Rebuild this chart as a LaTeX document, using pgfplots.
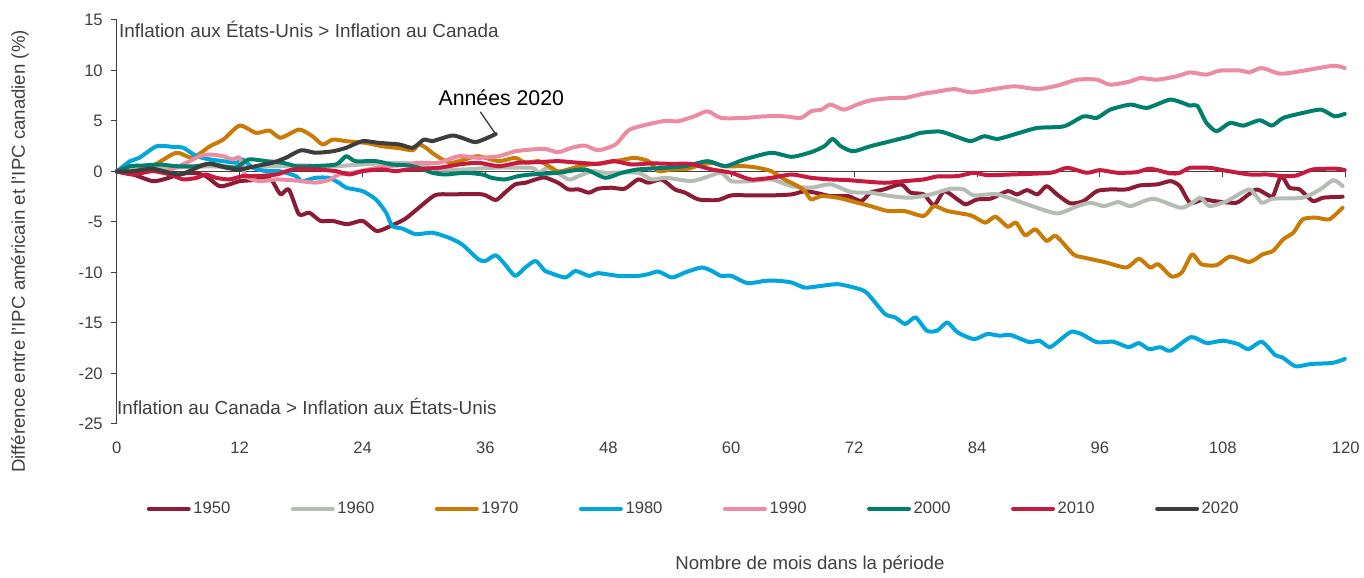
\documentclass[border=0pt]{standalone}
\usepackage{fontspec}
\setmainfont{Liberation Sans}
\usepackage{pgfplots}
\pgfplotsset{compat=1.18}

\definecolor{c1950}{HTML}{8C1C35}
\definecolor{c1960}{HTML}{B4BCB4}
\definecolor{c1970}{HTML}{C97B06}
\definecolor{c1980}{HTML}{00A6DC}
\definecolor{c1990}{HTML}{EC8CA2}
\definecolor{c2000}{HTML}{00806C}
\definecolor{c2010}{HTML}{C8193F}
\definecolor{c2020}{HTML}{3D3D3D}
\definecolor{txtgray}{HTML}{404040}

\begin{document}
\begin{tikzpicture}
\begin{axis}[
  scale only axis, width=924pt, height=303.75pt,
  xmin=0, xmax=120, ymin=-25, ymax=15,
  axis lines*=left, clip=false,
  x axis line style={draw=none},
  y axis line style={draw=txtgray, line width=0.75pt},
  xtick={0,12,...,120}, ytick={-25,-20,...,15},
  xtick style={draw=none},
  ytick style={draw=txtgray, line width=0.75pt},
  tick align=outside, major tick length=4pt,
  /pgf/number format/assume math mode=true,
  tick label style={font=\fontsize{12.5}{14}\selectfont, text=txtgray},
  xticklabel style={yshift=-6pt},
  yticklabel style={xshift=-3pt},
  ylabel={Différence entre l'IPC américain et l'IPC canadien (\%)},
  every axis y label/.style={at={(rel axis cs:-0.0787,0.427)}, rotate=90, anchor=center,
    font=\fontsize{14}{16}\selectfont, text=txtgray},
  every axis plot/.append style={line width=3pt, line join=round, line cap=round, smooth, tension=0.4},
  legend columns=8,
  legend style={draw=none, fill=none, at={(0.021,-0.21)}, anchor=west,
    font=\fontsize{12.5}{14}\selectfont, text=txtgray,
    /tikz/every even column/.append style={column sep=43.5pt}},
  legend image code/.code={\draw[#1, line width=3pt, line cap=round] (0pt,0pt) -- (30pt,0pt);},
]
\draw[txtgray, line width=0.75pt] (axis cs:0,0) -- (axis cs:120,0);
\pgfplotsinvokeforeach{12,24,36,48,60,72,84,96,108,120}{
  \draw[txtgray, line width=0.75pt] (axis cs:#1,0) -- ++(0pt,-4pt);
}

\addplot[c1950] coordinates {
(0,0) (1.6,-0.3) (3.5,-0.96) (4.8,-0.72) (6.1,-0.3) (7.4,-0.13) (8.7,-0.46) (10,-1.45) (11,-1.28) (12,-0.96)
(13.3,-0.86) (14.6,-0.63) (15.2,-0.96) (16,-2.27) (16.8,-1.78) (17.8,-4.25) (18.8,-4.08) (19.9,-4.9) (21.1,-4.9)
(22.5,-5.23) (24,-4.9) (25.4,-5.9) (26.9,-5.33) (28.2,-4.67) (29.5,-3.59) (31.1,-2.34) (32.7,-2.27) (35.7,-2.27)
(37,-2.83) (37.9,-2.1) (38.9,-1.28) (39.9,-1.12) (40.9,-0.79) (41.8,-0.6) (43.1,-1.12) (44.1,-1.78) (45.1,-1.78)
(46.1,-2.1) (47,-1.71) (48.3,-1.61) (49.6,-1.71) (50.9,-0.79) (51.9,-1.12) (53.2,-0.79) (54.5,-1.78) (55.5,-2.1)
(56.8,-2.77) (58.7,-2.83) (60,-2.37) (61.9,-2.37) (63.9,-2.37) (65.9,-2.27) (67.2,-1.95) (68.5,-2.17) (69.7,-2.44)
(71.4,-2.44) (72.7,-2.93) (73.6,-2.1) (74.9,-1.78) (76.6,-1.28) (77.5,-2.1) (78.8,-2.27) (79.8,-3.36) (80.8,-1.95)
(82.1,-2.77) (82.9,-3.26) (84,-2.77) (85.3,-2.7) (87,-1.95) (87.9,-2.27) (88.9,-1.85) (89.9,-2.27) (90.8,-1.45)
(91.8,-2.27) (93.1,-3.16) (94.4,-2.93) (95.7,-1.95) (97,-1.78) (98.6,-1.78) (99.9,-1.38) (101.6,-1.28) (102.9,-0.96)
(103.8,-1.45) (104.8,-3.1) (106.1,-2.77) (107.1,-2.93) (109.3,-3.1) (110.3,-2.44) (111.3,-1.78) (112.3,-2.27)
(112.9,-2.44) (113.7,-0.46) (114.5,-1.61) (115.5,-1.78) (116.8,-2.93) (117.8,-2.6) (119.7,-2.5)
};
\addlegendentry{1950}
\addplot[c1960] coordinates {
(0,0) (3,0.3) (6,0.4) (9,0.5) (12,0.4) (15,0.5) (18,0.6) (21,0.5) (24,0.7) (27.6,0.86) (29.5,0.69) (31.4,0.2)
(34,0.2) (36.6,0.36) (40.5,0.36) (41.2,-0.13) (42.2,0.36) (44.1,-0.79) (45.1,-0.46) (46.4,0.03) (47.7,-0.13)
(50.9,-0.13) (52.2,-0.79) (53.5,-0.63) (54.8,-0.79) (56.1,-0.96) (57.4,-0.63) (59,-0.13) (60,-0.96) (61.9,-0.96)
(63.9,-0.79) (65.9,-1.45) (67.8,-1.61) (69.7,-1.28) (71.7,-2.04) (73.6,-2.1) (75.6,-2.44) (77.5,-2.6) (79.5,-2.27)
(81.4,-1.71) (82.7,-1.78) (83.7,-2.37) (86,-2.27) (88.9,-3.26) (91.8,-4.15) (93.8,-3.43) (95.1,-3.1) (96.4,-3.43)
(97.8,-3.03) (99,-3.43) (101.2,-2.7) (103.8,-3.59) (104.8,-3.26) (105.8,-2.6) (106.7,-3.43) (108.4,-2.93)
(110.6,-1.78) (111.8,-3.1) (112.9,-2.7) (115.8,-2.6) (117.5,-1.78) (118.8,-0.86) (119.7,-1.45)
};
\addlegendentry{1960}
\addplot[c1970] coordinates {
(0,0) (1.6,-0.13) (3.5,0.53) (5.8,1.85) (7.4,1.35) (9.1,2.5) (10.4,3.16) (12,4.54) (13.6,3.82) (14.9,4.05)
(16,3.33) (17.8,4.15) (19.1,3.49) (20.1,2.67) (21.1,3.16) (22.4,3.0) (24.3,2.83) (25.9,2.5) (27.6,2.3) (28.9,2.1)
(29.5,2.67) (30.2,2.34) (30.8,1.84) (31.8,1.19) (32.7,0.86) (34,1.19) (35.3,1.51) (37.3,1.02) (38.9,1.35)
(39.9,0.86) (41.2,1.02) (42.2,0.52) (43.1,0.0) (44.1,0.2) (45.1,0.5) (46.1,0.69) (47.7,0.86) (49.6,1.19)
(50.6,1.35) (51.9,1.02) (52.9,0.03) (54.2,0.2) (55.8,0.27) (56.8,0.6) (58.1,0.86) (59.4,0.52) (61.3,0.52)
(62.6,0.36) (63.9,0.03) (65.2,-0.79) (66.5,-1.45) (67.2,-1.95) (67.8,-2.77) (68.8,-2.44) (70.4,-2.6) (71.7,-2.93)
(73.6,-3.43) (75.3,-3.92) (76.9,-3.92) (78.8,-4.41) (79.8,-3.43) (81.1,-3.92) (83.4,-4.35) (84.8,-5.07)
(85.8,-4.48) (87,-5.47) (87.8,-5.07) (88.7,-6.32) (89.7,-5.73) (90.8,-6.88) (91.7,-6.39) (93.4,-8.2) (94.4,-8.52)
(96.4,-8.96) (98.6,-9.51) (99.8,-8.63) (100.9,-9.51) (101.7,-9.19) (103,-10.4) (104,-10.0) (105,-8.2) (105.9,-9.19)
(107.4,-9.28) (108.7,-8.43) (110.6,-8.96) (111.9,-8.2) (112.9,-7.87) (113.9,-6.72) (114.9,-6.05) (115.8,-4.74)
(117.1,-4.57) (118.4,-4.74) (119.7,-3.59)
};
\addlegendentry{1970}
\addplot[c1980] coordinates {
(0,0) (1.3,1.02) (2.2,1.35) (3.9,2.5) (5.5,2.43) (6.5,2.34) (7.8,1.51) (9.1,1.19) (10.4,1.02) (11.7,0.86)
(12.3,1.19) (13.3,0.36) (14.6,0.03) (15.9,0.03) (17.5,-0.46) (18.1,-0.96) (19.4,-0.63) (20.7,-0.63) (21.7,-1.12)
(22.4,-1.61) (24,-1.95) (25.3,-2.77) (26.3,-4.08) (26.9,-5.4) (27.9,-5.66) (29.2,-6.22) (30.8,-6.06) (32.4,-6.55)
(33.7,-7.21) (35.3,-8.69) (36,-8.86) (37,-8.3) (37.9,-9.19) (38.9,-10.34) (39.9,-9.51) (40.9,-8.86) (41.8,-9.85)
(42.2,-10.0) (43.8,-10.5) (44.8,-9.85) (46.1,-10.34) (47,-10.07) (49,-10.34) (50.9,-10.34) (51.9,-10.17)
(52.9,-9.91) (54.2,-10.5) (55.5,-10.0) (57.1,-9.51) (58.1,-9.85) (59,-10.34) (60,-10.34) (61.6,-11.06)
(63.3,-10.83) (64.6,-10.83) (65.9,-11.0) (67.2,-11.5) (68.8,-11.33) (70.4,-11.16) (72,-11.5) (73.2,-11.98)
(75,-14.1) (76,-14.45) (77,-15.1) (78,-14.45) (79.1,-15.77) (80.1,-15.77) (81.1,-14.95) (82.1,-15.93) (83.7,-16.6)
(85,-16.1) (86.2,-16.26) (87.3,-16.2) (89.1,-16.9) (90.1,-16.76) (91.1,-17.4) (92.2,-16.6) (93.2,-15.87)
(94.2,-16.1) (95.7,-16.9) (97.3,-16.86) (98.8,-17.4) (99.8,-16.99) (100.8,-17.6) (101.9,-17.4) (102.9,-17.75)
(104.9,-16.4) (106.4,-16.99) (108,-16.76) (109.5,-17.09) (110.5,-17.6) (111.8,-16.86) (113.1,-18.17)
(113.8,-18.4) (115.1,-19.29) (116.6,-19.06) (118.7,-18.96) (119.9,-18.57)
};
\addlegendentry{1980}
\addplot[c1990] coordinates {
(0,0) (1.6,0.03) (3.2,0.36) (4.8,0.03) (6.8,0.86) (8.1,1.51) (9.1,1.68) (10.4,1.51) (11.3,1.19) (12,1.35)
(12.6,-0.46) (13.9,-0.96) (15.6,-0.79) (17.5,-0.9) (19.4,-1.1) (20.7,-0.85) (21.7,-0.3) (23,-0.13) (24.6,0.2)
(26.3,0.52) (27.6,0.6) (29.5,0.86) (31.4,0.86) (33.4,1.51) (35.3,1.35) (37.3,1.51) (38.9,2.0) (40.5,2.17)
(41.8,2.24) (43.1,1.9) (44.4,2.34) (45.7,2.57) (47,2.1) (48.7,2.67) (50,4.1) (51.6,4.6) (53.5,5.0) (54.8,4.97)
(56.4,5.46) (57.7,5.96) (59,5.3) (61.3,5.3) (63.3,5.46) (65.2,5.46) (66.8,5.3) (67.8,5.96) (68.8,6.12) (69.7,6.62)
(71,6.12) (72.3,6.62) (73.6,7.04) (75.6,7.27) (76.9,7.27) (78.8,7.7) (80.1,7.9) (81.8,8.16) (83.4,7.83) (85.3,8.1)
(87.6,8.43) (89.9,8.16) (91.8,8.49) (93.8,9.09) (95.7,9.09) (97,8.59) (99,8.92) (99.9,9.25) (101.6,9.09)
(103.5,9.42) (104.8,9.81) (106.4,9.58) (107.7,9.98) (109.7,10.0) (110.6,9.81) (111.8,10.24) (113.6,9.68)
(115.5,9.91) (116.8,10.14) (118.9,10.47) (119.9,10.24)
};
\addlegendentry{1990}
\addplot[c2000] coordinates {
(0,0) (1.3,0.52) (2.6,0.59) (4.2,0.69) (5.8,0.52) (7.8,0.52) (9.1,0.79) (10.4,0.52) (11.7,0.4) (12.9,1.19)
(14.6,1.02) (16.2,0.86) (17.5,0.52) (18.8,0.52) (21.4,0.69) (22.4,1.51) (23.3,1.02) (25.3,1.02) (26.9,0.69)
(28.5,0.59) (29.5,0.36) (30.8,-0.13) (32.1,-0.3) (34,-0.13) (35.7,-0.3) (36.6,-0.63) (37.9,-0.79) (39.2,-0.46)
(40.5,-0.3) (43.1,-0.13) (45.7,0.2) (47.7,-0.63) (49.3,-0.13) (50.9,0.2) (53.5,0.36) (55.5,0.52) (57.7,1.02)
(59.4,0.52) (61.3,1.19) (63.9,1.85) (65.9,1.45) (67.8,1.91) (69.1,2.5) (69.9,3.22) (70.7,2.5) (71.9,2.0)
(73.6,2.5) (74.9,2.83) (76.2,3.16) (77.5,3.49) (78.5,3.82) (80.4,3.95) (82.1,3.4) (83.4,3.0) (84.7,3.49) (86,3.22)
(87.9,3.75) (89.9,4.31) (92.5,4.47) (94.4,5.46) (95.7,5.3) (97,6.12) (99,6.62) (100.6,6.29) (102.9,7.11)
(104.8,6.52) (105.5,6.52) (106.4,4.81) (107.4,3.98) (108.7,4.81) (110,4.54) (111.6,5.07) (112.8,4.54)
(113.9,5.3) (115.8,5.79) (117.6,6.12) (118.9,5.46) (119.9,5.69)
};
\addlegendentry{2000}
\addplot[c2010] coordinates {
(0,0) (1.6,-0.3) (3.5,0.03) (5.2,-0.3) (6.5,-0.79) (7.8,-0.63) (8.7,-0.3) (9.7,-0.63) (11,-0.79) (12.3,-0.46)
(13.6,-0.46) (15.6,-0.3) (17.2,0.2) (19.4,0.2) (21.4,0.03) (22.7,-0.3) (24,0.03) (25.9,0.2) (27.2,0.03)
(28.5,0.2) (31.4,0.36) (33.4,0.69) (35.3,0.86) (37.3,0.52) (39.2,0.86) (41.2,0.92) (43.1,1.02) (45.1,0.86)
(47,0.75) (48.5,1.02) (50.3,0.69) (52.2,0.8) (54.2,0.75) (56,0.75) (58.1,0.2) (60,-0.13) (61.9,-0.79)
(63.9,-0.63) (65.9,-0.3) (67.8,-0.63) (69.7,-0.79) (71.4,-0.86) (74.9,-1.12) (76.9,-0.96) (78.8,-0.79)
(80.1,-0.5) (82.1,-0.46) (83.7,-0.13) (85,-0.37) (87.3,-0.3) (91.2,-0.13) (92.8,0.36) (94.7,-0.13) (96,0.13)
(97.7,-0.13) (99.6,-0.07) (100.9,0.27) (102.9,-0.2) (103.8,-0.13) (104.8,0.36) (106.7,0.36) (108,0.13)
(110.6,-0.3) (112.3,-0.3) (113.9,-0.46) (115.2,-0.4) (116.8,0.2) (119.1,0.27) (119.9,0.13)
};
\addlegendentry{2010}
\addplot[c2020] coordinates {
(0,0) (1.6,0.03) (3.5,0.27) (6.1,-0.3) (8.1,0.5) (9.1,0.75) (10.7,0.36) (12,0.2) (13.6,0.53) (15.2,0.86)
(16.5,1.35) (18,2.1) (19.4,1.85) (21.1,2.0) (22.4,2.34) (24,3.0) (25.6,2.83) (27.6,2.67) (28.9,2.34) (30,3.16)
(30.8,3.0) (32.7,3.55) (33.7,3.33) (35,2.9) (36.2,3.33) (37,3.7)
};
\addlegendentry{2020}

\draw[c2020, line width=1pt] (axis cs:37,3.7) -- (axis cs:35.5,5.9);
\node[anchor=base west, inner sep=0pt, font=\fontsize{16}{18}\selectfont, text=black]
  at (axis cs:31.4,6.5) {Années 2020};
\node[anchor=west, inner sep=0pt, font=\fontsize{14.2}{16}\selectfont, text=txtgray]
  at (axis cs:0.2,14.1) {Inflation aux États-Unis > Inflation au Canada};
\node[anchor=west, inner sep=0pt, font=\fontsize{14.2}{16}\selectfont, text=txtgray]
  at (axis cs:0.0,-23.3) {Inflation au Canada > Inflation aux États-Unis};
\node[anchor=center, font=\fontsize{14}{16}\selectfont, text=txtgray]
  at (rel axis cs:0.564,-0.347) {Nombre de mois dans la période};
\path (rel axis cs:-0.095,-0.363) rectangle (rel axis cs:1.0122,1.0494);
\end{axis}
\end{tikzpicture}
\end{document}
